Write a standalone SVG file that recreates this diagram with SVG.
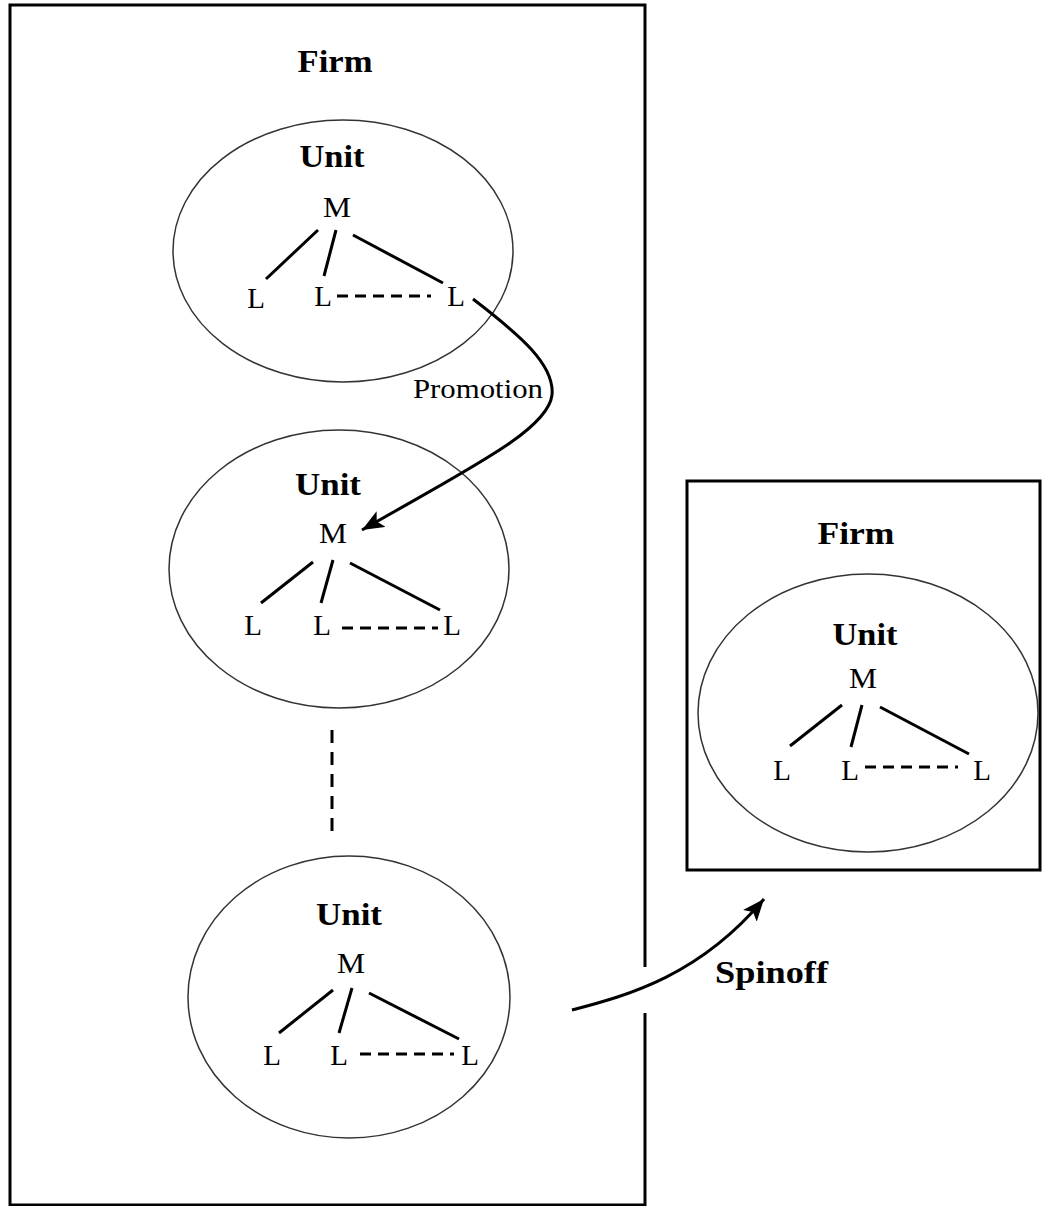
<svg xmlns="http://www.w3.org/2000/svg" width="1042" height="1206" viewBox="0 0 1042 1206">
<defs>
<style>
.frame{fill:none;stroke:#000;stroke-width:3}
.unit{fill:none;stroke:#333;stroke-width:1.5}
.edge{stroke:#000;stroke-width:3;fill:none}
.dash{stroke:#000;stroke-width:3;fill:none;stroke-dasharray:11 7}
.conn{stroke:#000;stroke-width:3;fill:none}
.bold{font-family:"Liberation Serif","Times New Roman",serif;font-weight:bold;font-size:31px;fill:#000;text-anchor:middle}
.lbl{font-family:"Liberation Serif","Times New Roman",serif;font-size:29px;fill:#000;text-anchor:middle}
</style>
<marker id="ah" markerUnits="userSpaceOnUse" markerWidth="24" markerHeight="20" refX="22" refY="9" orient="auto">
<path d="M0,0 L22,9 L0,18 L5,9 Z" fill="#000"/>
</marker>
</defs>
<rect x="0" y="0" width="1042" height="1206" fill="#fff"/>

<g id="firm-left">
<path class="frame" d="M645,967 V5 H10 V1205 H645 V1013"/>
<text class="bold" x="335" y="72" textLength="75" lengthAdjust="spacingAndGlyphs">Firm</text>
</g>

<g id="unit-1">
<ellipse class="unit" cx="343" cy="251" rx="170" ry="131"/>
<text class="bold" x="332" y="167" textLength="65" lengthAdjust="spacingAndGlyphs">Unit</text>
<text class="lbl" x="337" y="217" textLength="28" lengthAdjust="spacingAndGlyphs">M</text>
<text class="lbl" x="256" y="308">L</text>
<text class="lbl" x="323" y="306">L</text>
<text class="lbl" x="456" y="306">L</text>
<line class="edge" x1="318" y1="230" x2="266" y2="279"/>
<line class="edge" x1="336" y1="230" x2="324" y2="276"/>
<line class="edge" x1="353" y1="235" x2="443" y2="283"/>
<line class="dash" x1="337" y1="296" x2="431" y2="296"/>
</g>

<g id="unit-2">
<ellipse class="unit" cx="339" cy="569" rx="170" ry="139"/>
<text class="bold" x="328" y="495" textLength="66" lengthAdjust="spacingAndGlyphs">Unit</text>
<text class="lbl" x="333" y="543" textLength="28" lengthAdjust="spacingAndGlyphs">M</text>
<text class="lbl" x="253" y="635">L</text>
<text class="lbl" x="322" y="635">L</text>
<text class="lbl" x="452" y="635">L</text>
<line class="edge" x1="313" y1="562" x2="261" y2="603"/>
<line class="edge" x1="333" y1="560" x2="321" y2="603"/>
<line class="edge" x1="350" y1="563" x2="440" y2="610"/>
<line class="dash" x1="342" y1="628" x2="438" y2="628"/>
</g>

<g id="unit-3">
<ellipse class="unit" cx="349" cy="997" rx="161" ry="141"/>
<text class="bold" x="349" y="925" textLength="66" lengthAdjust="spacingAndGlyphs">Unit</text>
<text class="lbl" x="351" y="973" textLength="28" lengthAdjust="spacingAndGlyphs">M</text>
<text class="lbl" x="272" y="1065">L</text>
<text class="lbl" x="339" y="1065">L</text>
<text class="lbl" x="470" y="1065">L</text>
<line class="edge" x1="333" y1="990" x2="279" y2="1033"/>
<line class="edge" x1="352" y1="988" x2="339" y2="1033"/>
<line class="edge" x1="369" y1="993" x2="459" y2="1039"/>
<line class="dash" x1="360" y1="1054" x2="454" y2="1054"/>
</g>

<g id="firm-right">
<rect class="frame" x="687" y="481" width="353" height="389"/>
<text class="bold" x="856" y="544" textLength="77" lengthAdjust="spacingAndGlyphs">Firm</text>
</g>

<g id="unit-4">
<ellipse class="unit" cx="868" cy="713" rx="170" ry="139"/>
<text class="bold" x="865" y="645" textLength="65" lengthAdjust="spacingAndGlyphs">Unit</text>
<text class="lbl" x="863" y="688" textLength="28" lengthAdjust="spacingAndGlyphs">M</text>
<text class="lbl" x="782" y="780">L</text>
<text class="lbl" x="850" y="780">L</text>
<text class="lbl" x="982" y="780">L</text>
<line class="edge" x1="842" y1="705" x2="790" y2="746"/>
<line class="edge" x1="862" y1="705" x2="851" y2="747"/>
<line class="edge" x1="880" y1="707" x2="969" y2="754"/>
<line class="dash" x1="865" y1="767" x2="958" y2="767"/>
</g>

<g id="connectors">
<line class="edge" x1="332" y1="730" x2="332" y2="834" stroke-dasharray="13 9" stroke-width="3"/>
<path class="conn" d="M473,299 C520,335 555,365 552,395 C548,430 470,468 362,530" marker-end="url(#ah)"/>
<text x="413" y="398" font-family="Liberation Serif, Times New Roman, serif" font-size="27" textLength="130" lengthAdjust="spacingAndGlyphs">Promotion</text>
<path class="conn" d="M572,1010 C630,995 700,975 764,899" marker-end="url(#ah)"/>
<text x="715" y="983" font-family="Liberation Serif, Times New Roman, serif" font-weight="bold" font-size="31" textLength="113" lengthAdjust="spacingAndGlyphs">Spinoff</text>
</g>
</svg>
